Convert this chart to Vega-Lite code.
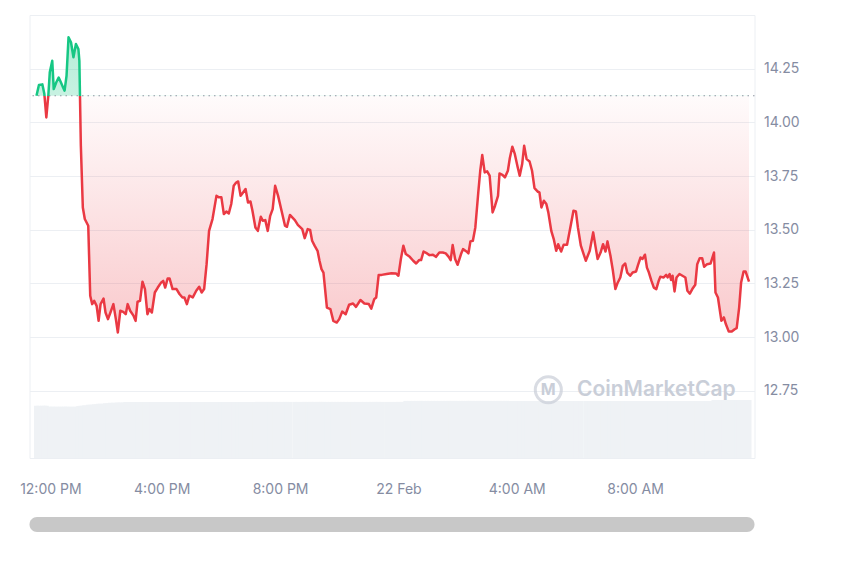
{
  "$schema": "https://vega.github.io/schema/vega-lite/v6.json",
  "padding": {"left": 18.5, "top": 14, "right": 5, "bottom": 5},
  "background": "white",
  "spacing": 20,
  "config": {"view": {"stroke": "#eceff3"}},
  "datasets": {
    "px": [
      {"t":"2024-02-21T11:46:00Z","p":14.124,"v":53},{"t":"2024-02-21T11:51:00Z","p":14.174,"v":53},{"t":"2024-02-21T11:58:00Z","p":14.177,"v":53},{"t":"2024-02-21T12:02:00Z","p":14.132,"v":53},{"t":"2024-02-21T12:06:00Z","p":14.023,"v":53},
      {"t":"2024-02-21T12:10:00Z","p":14.124,"v":52},{"t":"2024-02-21T12:13:00Z","p":14.233,"v":52},{"t":"2024-02-21T12:18:00Z","p":14.287,"v":52},{"t":"2024-02-21T12:21:00Z","p":14.155,"v":52},{"t":"2024-02-21T12:26:00Z","p":14.186,"v":52},
      {"t":"2024-02-21T12:31:00Z","p":14.209,"v":52},{"t":"2024-02-21T12:35:00Z","p":14.189,"v":52},{"t":"2024-02-21T12:40:00Z","p":14.163,"v":52},{"t":"2024-02-21T12:43:00Z","p":14.148,"v":52},{"t":"2024-02-21T12:47:00Z","p":14.217,"v":52},
      {"t":"2024-02-21T12:51:00Z","p":14.396,"v":52},{"t":"2024-02-21T12:56:00Z","p":14.373,"v":52},{"t":"2024-02-21T13:01:00Z","p":14.303,"v":52},{"t":"2024-02-21T13:06:00Z","p":14.365,"v":52},{"t":"2024-02-21T13:11:00Z","p":14.342,"v":52.5},
      {"t":"2024-02-21T13:13:00Z","p":14.287,"v":52.5},{"t":"2024-02-21T13:16:00Z","p":13.891,"v":53},{"t":"2024-02-21T13:20:00Z","p":13.604,"v":53},{"t":"2024-02-21T13:24:00Z","p":13.55,"v":53.5},{"t":"2024-02-21T13:31:00Z","p":13.519,"v":54},
      {"t":"2024-02-21T13:35:00Z","p":13.193,"v":54},{"t":"2024-02-21T13:39:00Z","p":13.154,"v":54},{"t":"2024-02-21T13:43:00Z","p":13.169,"v":54.5},{"t":"2024-02-21T13:48:00Z","p":13.146,"v":54.5},{"t":"2024-02-21T13:52:00Z","p":13.076,"v":55},
      {"t":"2024-02-21T13:56:00Z","p":13.154,"v":55},{"t":"2024-02-21T14:02:00Z","p":13.18,"v":55},{"t":"2024-02-21T14:06:00Z","p":13.115,"v":55.5},{"t":"2024-02-21T14:11:00Z","p":13.084,"v":55.5},{"t":"2024-02-21T14:16:00Z","p":13.115,"v":56},
      {"t":"2024-02-21T14:22:00Z","p":13.154,"v":56},{"t":"2024-02-21T14:27:00Z","p":13.084,"v":56},{"t":"2024-02-21T14:31:00Z","p":13.022,"v":56.5},{"t":"2024-02-21T14:36:00Z","p":13.123,"v":56.5},{"t":"2024-02-21T14:42:00Z","p":13.118,"v":56.5},
      {"t":"2024-02-21T14:47:00Z","p":13.107,"v":57},{"t":"2024-02-21T14:51:00Z","p":13.154,"v":57},{"t":"2024-02-21T14:56:00Z","p":13.123,"v":57},{"t":"2024-02-21T15:03:00Z","p":13.099,"v":57},{"t":"2024-02-21T15:07:00Z","p":13.076,"v":57},
      {"t":"2024-02-21T15:11:00Z","p":13.165,"v":57},{"t":"2024-02-21T15:16:00Z","p":13.169,"v":57},{"t":"2024-02-21T15:21:00Z","p":13.258,"v":57},{"t":"2024-02-21T15:26:00Z","p":13.224,"v":57},{"t":"2024-02-21T15:31:00Z","p":13.107,"v":57},
      {"t":"2024-02-21T15:35:00Z","p":13.131,"v":57},{"t":"2024-02-21T15:40:00Z","p":13.115,"v":57},{"t":"2024-02-21T15:46:00Z","p":13.208,"v":57},{"t":"2024-02-21T15:52:00Z","p":13.231,"v":57},{"t":"2024-02-21T15:59:00Z","p":13.255,"v":57},
      {"t":"2024-02-21T16:03:00Z","p":13.262,"v":57},{"t":"2024-02-21T16:07:00Z","p":13.231,"v":57},{"t":"2024-02-21T16:12:00Z","p":13.273,"v":57},{"t":"2024-02-21T16:16:00Z","p":13.273,"v":57},{"t":"2024-02-21T16:22:00Z","p":13.224,"v":57},
      {"t":"2024-02-21T16:30:00Z","p":13.224,"v":57},{"t":"2024-02-21T16:36:00Z","p":13.201,"v":57},{"t":"2024-02-21T16:42:00Z","p":13.185,"v":57},{"t":"2024-02-21T16:46:00Z","p":13.185,"v":57},{"t":"2024-02-21T16:51:00Z","p":13.154,"v":57},
      {"t":"2024-02-21T16:56:00Z","p":13.193,"v":57},{"t":"2024-02-21T17:03:00Z","p":13.185,"v":57},{"t":"2024-02-21T17:10:00Z","p":13.216,"v":57},{"t":"2024-02-21T17:16:00Z","p":13.235,"v":57},{"t":"2024-02-21T17:21:00Z","p":13.208,"v":57},
      {"t":"2024-02-21T17:26:00Z","p":13.224,"v":57},{"t":"2024-02-21T17:31:00Z","p":13.34,"v":57},{"t":"2024-02-21T17:36:00Z","p":13.495,"v":57},{"t":"2024-02-21T17:43:00Z","p":13.55,"v":57},{"t":"2024-02-21T17:51:00Z","p":13.658,"v":57},
      {"t":"2024-02-21T17:56:00Z","p":13.651,"v":57},{"t":"2024-02-21T18:01:00Z","p":13.651,"v":57},{"t":"2024-02-21T18:06:00Z","p":13.573,"v":57},{"t":"2024-02-21T18:11:00Z","p":13.585,"v":57},{"t":"2024-02-21T18:16:00Z","p":13.576,"v":57},
      {"t":"2024-02-21T18:21:00Z","p":13.62,"v":57},{"t":"2024-02-21T18:26:00Z","p":13.705,"v":57},{"t":"2024-02-21T18:31:00Z","p":13.72,"v":57},{"t":"2024-02-21T18:35:00Z","p":13.725,"v":57},{"t":"2024-02-21T18:40:00Z","p":13.658,"v":57},
      {"t":"2024-02-21T18:45:00Z","p":13.674,"v":57},{"t":"2024-02-21T18:50:00Z","p":13.69,"v":57},{"t":"2024-02-21T18:55:00Z","p":13.627,"v":57},{"t":"2024-02-21T19:00:00Z","p":13.632,"v":57},{"t":"2024-02-21T19:04:00Z","p":13.589,"v":57},
      {"t":"2024-02-21T19:10:00Z","p":13.511,"v":57},{"t":"2024-02-21T19:15:00Z","p":13.495,"v":57},{"t":"2024-02-21T19:21:00Z","p":13.561,"v":57},{"t":"2024-02-21T19:25:00Z","p":13.542,"v":57},{"t":"2024-02-21T19:30:00Z","p":13.545,"v":57},
      {"t":"2024-02-21T19:35:00Z","p":13.495,"v":57},{"t":"2024-02-21T19:40:00Z","p":13.565,"v":57},{"t":"2024-02-21T19:45:00Z","p":13.596,"v":57},{"t":"2024-02-21T19:50:00Z","p":13.705,"v":57},{"t":"2024-02-21T19:56:00Z","p":13.658,"v":57},
      {"t":"2024-02-21T20:03:00Z","p":13.589,"v":57},{"t":"2024-02-21T20:10:00Z","p":13.519,"v":57},{"t":"2024-02-21T20:14:00Z","p":13.514,"v":57},{"t":"2024-02-21T20:20:00Z","p":13.569,"v":57},{"t":"2024-02-21T20:30:00Z","p":13.545,"v":57},
      {"t":"2024-02-21T20:36:00Z","p":13.523,"v":57},{"t":"2024-02-21T20:45:00Z","p":13.503,"v":57},{"t":"2024-02-21T20:50:00Z","p":13.461,"v":57},{"t":"2024-02-21T20:56:00Z","p":13.503,"v":57},{"t":"2024-02-21T21:01:00Z","p":13.499,"v":57},
      {"t":"2024-02-21T21:05:00Z","p":13.449,"v":57},{"t":"2024-02-21T21:10:00Z","p":13.426,"v":57},{"t":"2024-02-21T21:16:00Z","p":13.402,"v":57},{"t":"2024-02-21T21:20:00Z","p":13.356,"v":57},{"t":"2024-02-21T21:24:00Z","p":13.317,"v":57},
      {"t":"2024-02-21T21:28:00Z","p":13.301,"v":57},{"t":"2024-02-21T21:35:00Z","p":13.138,"v":57},{"t":"2024-02-21T21:42:00Z","p":13.131,"v":57},{"t":"2024-02-21T21:48:00Z","p":13.076,"v":57},{"t":"2024-02-21T21:55:00Z","p":13.068,"v":57},
      {"t":"2024-02-21T22:00:00Z","p":13.084,"v":57},{"t":"2024-02-21T22:06:00Z","p":13.119,"v":57},{"t":"2024-02-21T22:13:00Z","p":13.107,"v":57},{"t":"2024-02-21T22:20:00Z","p":13.151,"v":57},{"t":"2024-02-21T22:28:00Z","p":13.157,"v":57},
      {"t":"2024-02-21T22:34:00Z","p":13.141,"v":57},{"t":"2024-02-21T22:43:00Z","p":13.173,"v":57},{"t":"2024-02-21T22:51:00Z","p":13.157,"v":57},{"t":"2024-02-21T23:00:00Z","p":13.154,"v":57},{"t":"2024-02-21T23:05:00Z","p":13.133,"v":57},
      {"t":"2024-02-21T23:11:00Z","p":13.177,"v":57},{"t":"2024-02-21T23:15:00Z","p":13.185,"v":57},{"t":"2024-02-21T23:20:00Z","p":13.29,"v":57},{"t":"2024-02-21T23:26:00Z","p":13.29,"v":57},{"t":"2024-02-21T23:36:00Z","p":13.294,"v":57},
      {"t":"2024-02-21T23:46:00Z","p":13.298,"v":57},{"t":"2024-02-21T23:55:00Z","p":13.297,"v":57},{"t":"2024-02-22T00:00:00Z","p":13.286,"v":57},{"t":"2024-02-22T00:05:00Z","p":13.364,"v":57},{"t":"2024-02-22T00:10:00Z","p":13.426,"v":57},
      {"t":"2024-02-22T00:15:00Z","p":13.387,"v":58},{"t":"2024-02-22T00:23:00Z","p":13.374,"v":58},{"t":"2024-02-22T00:30:00Z","p":13.356,"v":58},{"t":"2024-02-22T00:36:00Z","p":13.343,"v":58},{"t":"2024-02-22T00:42:00Z","p":13.359,"v":58},
      {"t":"2024-02-22T00:46:00Z","p":13.359,"v":58},{"t":"2024-02-22T00:51:00Z","p":13.399,"v":58},{"t":"2024-02-22T00:58:00Z","p":13.39,"v":58},{"t":"2024-02-22T01:03:00Z","p":13.382,"v":58},{"t":"2024-02-22T01:10:00Z","p":13.384,"v":58},
      {"t":"2024-02-22T01:16:00Z","p":13.374,"v":58},{"t":"2024-02-22T01:23:00Z","p":13.394,"v":58},{"t":"2024-02-22T01:30:00Z","p":13.394,"v":58},{"t":"2024-02-22T01:36:00Z","p":13.39,"v":58},{"t":"2024-02-22T01:42:00Z","p":13.374,"v":58},
      {"t":"2024-02-22T01:46:00Z","p":13.359,"v":58},{"t":"2024-02-22T01:50:00Z","p":13.429,"v":58},{"t":"2024-02-22T01:55:00Z","p":13.364,"v":58},{"t":"2024-02-22T02:00:00Z","p":13.337,"v":58},{"t":"2024-02-22T02:07:00Z","p":13.387,"v":58},
      {"t":"2024-02-22T02:11:00Z","p":13.41,"v":58},{"t":"2024-02-22T02:18:00Z","p":13.399,"v":58},{"t":"2024-02-22T02:22:00Z","p":13.39,"v":58},{"t":"2024-02-22T02:26:00Z","p":13.446,"v":58},{"t":"2024-02-22T02:31:00Z","p":13.449,"v":58},
      {"t":"2024-02-22T02:36:00Z","p":13.511,"v":58},{"t":"2024-02-22T02:42:00Z","p":13.674,"v":58},{"t":"2024-02-22T02:46:00Z","p":13.775,"v":58},{"t":"2024-02-22T02:50:00Z","p":13.848,"v":58},{"t":"2024-02-22T02:55:00Z","p":13.767,"v":58},
      {"t":"2024-02-22T03:00:00Z","p":13.772,"v":58},{"t":"2024-02-22T03:05:00Z","p":13.752,"v":58},{"t":"2024-02-22T03:11:00Z","p":13.581,"v":58},{"t":"2024-02-22T03:16:00Z","p":13.612,"v":58},{"t":"2024-02-22T03:22:00Z","p":13.658,"v":58},
      {"t":"2024-02-22T03:25:00Z","p":13.762,"v":58},{"t":"2024-02-22T03:31:00Z","p":13.756,"v":58},{"t":"2024-02-22T03:36:00Z","p":13.744,"v":58},{"t":"2024-02-22T03:42:00Z","p":13.775,"v":58},{"t":"2024-02-22T03:46:00Z","p":13.834,"v":58},
      {"t":"2024-02-22T03:51:00Z","p":13.887,"v":58},{"t":"2024-02-22T03:56:00Z","p":13.853,"v":58},{"t":"2024-02-22T04:02:00Z","p":13.79,"v":58},{"t":"2024-02-22T04:06:00Z","p":13.752,"v":58},{"t":"2024-02-22T04:11:00Z","p":13.806,"v":58},
      {"t":"2024-02-22T04:15:00Z","p":13.891,"v":58},{"t":"2024-02-22T04:20:00Z","p":13.829,"v":58},{"t":"2024-02-22T04:26:00Z","p":13.818,"v":58},{"t":"2024-02-22T04:31:00Z","p":13.775,"v":58},{"t":"2024-02-22T04:36:00Z","p":13.694,"v":58},
      {"t":"2024-02-22T04:43:00Z","p":13.677,"v":58},{"t":"2024-02-22T04:46:00Z","p":13.674,"v":58},{"t":"2024-02-22T04:50:00Z","p":13.604,"v":58},{"t":"2024-02-22T04:55:00Z","p":13.635,"v":58},{"t":"2024-02-22T05:00:00Z","p":13.62,"v":58},
      {"t":"2024-02-22T05:04:00Z","p":13.581,"v":58},{"t":"2024-02-22T05:10:00Z","p":13.495,"v":58},{"t":"2024-02-22T05:15:00Z","p":13.457,"v":58},{"t":"2024-02-22T05:20:00Z","p":13.402,"v":58},{"t":"2024-02-22T05:24:00Z","p":13.433,"v":58},
      {"t":"2024-02-22T05:30:00Z","p":13.399,"v":58},{"t":"2024-02-22T05:35:00Z","p":13.43,"v":58},{"t":"2024-02-22T05:42:00Z","p":13.43,"v":58},{"t":"2024-02-22T05:48:00Z","p":13.503,"v":58},{"t":"2024-02-22T05:55:00Z","p":13.589,"v":58},
      {"t":"2024-02-22T06:00:00Z","p":13.585,"v":58},{"t":"2024-02-22T06:04:00Z","p":13.511,"v":58},{"t":"2024-02-22T06:10:00Z","p":13.426,"v":58},{"t":"2024-02-22T06:20:00Z","p":13.356,"v":58},{"t":"2024-02-22T06:28:00Z","p":13.402,"v":58},
      {"t":"2024-02-22T06:35:00Z","p":13.488,"v":58},{"t":"2024-02-22T06:40:00Z","p":13.418,"v":58},{"t":"2024-02-22T06:44:00Z","p":13.364,"v":58},{"t":"2024-02-22T06:50:00Z","p":13.394,"v":58},{"t":"2024-02-22T06:55:00Z","p":13.433,"v":58},
      {"t":"2024-02-22T07:00:00Z","p":13.399,"v":58},{"t":"2024-02-22T07:04:00Z","p":13.446,"v":58},{"t":"2024-02-22T07:10:00Z","p":13.379,"v":58},{"t":"2024-02-22T07:15:00Z","p":13.309,"v":58},{"t":"2024-02-22T07:20:00Z","p":13.224,"v":58},
      {"t":"2024-02-22T07:24:00Z","p":13.25,"v":58},{"t":"2024-02-22T07:30:00Z","p":13.278,"v":58},{"t":"2024-02-22T07:35:00Z","p":13.332,"v":58},{"t":"2024-02-22T07:40:00Z","p":13.343,"v":58},{"t":"2024-02-22T07:44:00Z","p":13.301,"v":58},
      {"t":"2024-02-22T07:50:00Z","p":13.286,"v":58},{"t":"2024-02-22T07:55:00Z","p":13.301,"v":58},{"t":"2024-02-22T08:02:00Z","p":13.306,"v":58},{"t":"2024-02-22T08:06:00Z","p":13.337,"v":58},{"t":"2024-02-22T08:11:00Z","p":13.371,"v":58},
      {"t":"2024-02-22T08:15:00Z","p":13.364,"v":58},{"t":"2024-02-22T08:20:00Z","p":13.384,"v":58},{"t":"2024-02-22T08:24:00Z","p":13.324,"v":58},{"t":"2024-02-22T08:28:00Z","p":13.301,"v":58},{"t":"2024-02-22T08:33:00Z","p":13.263,"v":58},
      {"t":"2024-02-22T08:38:00Z","p":13.231,"v":58},{"t":"2024-02-22T08:43:00Z","p":13.224,"v":58},{"t":"2024-02-22T08:48:00Z","p":13.263,"v":58},{"t":"2024-02-22T08:51:00Z","p":13.281,"v":58},{"t":"2024-02-22T08:58:00Z","p":13.278,"v":58},
      {"t":"2024-02-22T09:03:00Z","p":13.29,"v":58},{"t":"2024-02-22T09:06:00Z","p":13.278,"v":58},{"t":"2024-02-22T09:10:00Z","p":13.294,"v":58},{"t":"2024-02-22T09:13:00Z","p":13.266,"v":58},{"t":"2024-02-22T09:16:00Z","p":13.286,"v":58},
      {"t":"2024-02-22T09:20:00Z","p":13.213,"v":58},{"t":"2024-02-22T09:24:00Z","p":13.278,"v":58},{"t":"2024-02-22T09:30:00Z","p":13.294,"v":58},{"t":"2024-02-22T09:36:00Z","p":13.286,"v":58},{"t":"2024-02-22T09:42:00Z","p":13.278,"v":58},
      {"t":"2024-02-22T09:46:00Z","p":13.216,"v":58},{"t":"2024-02-22T09:51:00Z","p":13.203,"v":58},{"t":"2024-02-22T09:56:00Z","p":13.224,"v":58},{"t":"2024-02-22T10:02:00Z","p":13.244,"v":58},{"t":"2024-02-22T10:06:00Z","p":13.34,"v":58},
      {"t":"2024-02-22T10:11:00Z","p":13.368,"v":58},{"t":"2024-02-22T10:16:00Z","p":13.368,"v":58},{"t":"2024-02-22T10:20:00Z","p":13.328,"v":58},{"t":"2024-02-22T10:26:00Z","p":13.34,"v":58},{"t":"2024-02-22T10:33:00Z","p":13.343,"v":58},
      {"t":"2024-02-22T10:40:00Z","p":13.394,"v":59},{"t":"2024-02-22T10:43:00Z","p":13.208,"v":59},{"t":"2024-02-22T10:48:00Z","p":13.185,"v":59},{"t":"2024-02-22T10:55:00Z","p":13.076,"v":59},{"t":"2024-02-22T11:00:00Z","p":13.092,"v":59},
      {"t":"2024-02-22T11:04:00Z","p":13.061,"v":59},{"t":"2024-02-22T11:10:00Z","p":13.026,"v":59},{"t":"2024-02-22T11:16:00Z","p":13.026,"v":59},{"t":"2024-02-22T11:22:00Z","p":13.037,"v":59},{"t":"2024-02-22T11:26:00Z","p":13.042,"v":59},
      {"t":"2024-02-22T11:31:00Z","p":13.138,"v":59},{"t":"2024-02-22T11:35:00Z","p":13.255,"v":59},{"t":"2024-02-22T11:40:00Z","p":13.306,"v":59},{"t":"2024-02-22T11:44:00Z","p":13.306,"v":59},{"t":"2024-02-22T11:51:00Z","p":13.259,"v":59}
    ],
    "base": [{"b": 14.124}],
    "wm": [{"t": "2024-02-22T06:02:00Z", "p": 12.755, "label": "CoinMarketCap"}],
    "logo": [{"t": "2024-02-22T05:04:00Z", "p": 12.755, "icon": "M"}],
    "scroll": [{"start": "2024-02-21T11:42:00Z", "end": "2024-02-22T11:52:00Z"}]
  },
  "vconcat": [
    {
      "width": 725,
      "height": 443,
      "layer": [
        {
          "data": {"name": "px"},
          "mark": {"type": "bar", "color": "#eff2f5", "clip": true, "width": 5},
          "encoding": {
            "x": {
              "field": "t", "type": "temporal",
              "scale": {"type": "utc", "domain": [{"year": 2024, "month": 2, "date": 21, "hours": 11, "minutes": 42, "utc": true}, {"year": 2024, "month": 2, "date": 22, "hours": 11, "minutes": 52, "utc": true}]},
              "axis": {
                "title": null, "grid": false, "domain": false, "ticks": false,
                "labelPadding": 24, "labelFont": "Inter", "labelFontSize": 14, "labelColor": "#858ca2",
                "labelOffset": {"condition": {"test": "utcFormat(datum.value, '%d %H') == '21 12'", "value": 7}, "value": 0},
                "values": [
                  {"year": 2024, "month": 2, "date": 21, "hours": 12, "utc": true},
                  {"year": 2024, "month": 2, "date": 21, "hours": 16, "utc": true},
                  {"year": 2024, "month": 2, "date": 21, "hours": 20, "utc": true},
                  {"year": 2024, "month": 2, "date": 22, "hours": 0, "utc": true},
                  {"year": 2024, "month": 2, "date": 22, "hours": 4, "utc": true},
                  {"year": 2024, "month": 2, "date": 22, "hours": 8, "utc": true}
                ],
                "labelExpr": "utcFormat(datum.value, '%H:%M') == '00:00' ? utcFormat(datum.value, '%-d %b') : utcFormat(datum.value, '%-I:%M %p')"
              }
            },
            "y": {"field": "v", "type": "quantitative", "scale": {"domain": [0, 450]}, "axis": null}
          }
        },
        {
          "data": {"name": "px"},
          "mark": {
            "type": "area",
            "fill": {"gradient": "linear", "x1": 0, "y1": 0, "x2": 0, "y2": 1,
              "stops": [
                {"offset": 0, "color": "rgba(22,199,132,0.32)"},
                {"offset": 0.198, "color": "rgba(22,199,132,0.24)"},
                {"offset": 0.198, "color": "rgba(234,57,67,0.02)"},
                {"offset": 1, "color": "rgba(234,57,67,0.27)"}
              ]}
          },
          "encoding": {
            "x": {"field": "t", "type": "temporal"},
            "y": {
              "field": "p", "type": "quantitative",
              "scale": {"domain": [12.4375, 14.5], "zero": false, "nice": false},
              "axis": {
                "orient": "right", "title": null, "values": [12.75, 13, 13.25, 13.5, 13.75, 14, 14.25, 14.5],
                "labelExpr": "datum.value >= 14.5 ? '' : format(datum.value, '.2f')",
                "labelFont": "Inter", "labelFontSize": 14, "labelColor": "#858ca2",
                "grid": true, "gridColor": "#eceff3", "domain": false, "ticks": false, "labelPadding": 9
              }
            },
            "y2": {"datum": 14.124}
          }
        },
        {
          "data": {"name": "base"},
          "mark": {"type": "rule", "stroke": "#9097a3", "strokeDash": [1.5, 4], "strokeWidth": 1.2},
          "encoding": {"y": {"field": "b", "type": "quantitative", "scale": {"domain": [12.4375, 14.5], "zero": false, "nice": false}, "axis": null}}
        },
        {
          "data": {"name": "px"},
          "mark": {
            "type": "line", "strokeWidth": 2.5, "strokeJoin": "round",
            "stroke": {"gradient": "linear", "x1": 0, "y1": 0, "x2": 0, "y2": 1,
              "stops": [
                {"offset": 0, "color": "#16c784"},
                {"offset": 0.198, "color": "#16c784"},
                {"offset": 0.198, "color": "#ea3943"},
                {"offset": 1, "color": "#ea3943"}
              ]}
          },
          "encoding": {
            "x": {"field": "t", "type": "temporal"},
            "y": {"field": "p", "type": "quantitative", "scale": {"domain": [12.4375, 14.5], "zero": false, "nice": false}, "axis": null}
          }
        },
        {
          "data": {"name": "logo"},
          "mark": {"type": "point", "shape": "circle", "filled": false, "stroke": "#c9ced8", "strokeWidth": 3, "size": 680},
          "encoding": {
            "x": {"field": "t", "type": "temporal"},
            "y": {"field": "p", "type": "quantitative", "scale": {"domain": [12.4375, 14.5], "zero": false, "nice": false}, "axis": null}
          }
        },
        {
          "data": {"name": "logo"},
          "mark": {"type": "text", "align": "center", "baseline": "middle", "fontSize": 16, "fontWeight": 700, "color": "#c9ced8", "font": "Inter"},
          "encoding": {
            "x": {"field": "t", "type": "temporal"},
            "y": {"field": "p", "type": "quantitative", "scale": {"domain": [12.4375, 14.5], "zero": false, "nice": false}, "axis": null},
            "text": {"field": "icon"}
          }
        },
        {
          "data": {"name": "wm"},
          "mark": {"type": "text", "align": "left", "baseline": "middle", "fontSize": 21, "fontWeight": 600, "color": "#c9ced8", "font": "Inter"},
          "encoding": {
            "x": {"field": "t", "type": "temporal"},
            "y": {"field": "p", "type": "quantitative", "scale": {"domain": [12.4375, 14.5], "zero": false, "nice": false}, "axis": null},
            "text": {"field": "label"}
          }
        }
      ],
      "resolve": {"scale": {"y": "independent"}}
    },
    {
      "width": 725,
      "height": 15,
      "view": {"stroke": null},
      "data": {"name": "scroll"},
      "mark": {"type": "rect", "color": "#c8c8c8", "cornerRadius": 7.5},
      "encoding": {
        "x": {
          "field": "start", "type": "temporal",
          "scale": {"type": "utc", "domain": [{"year": 2024, "month": 2, "date": 21, "hours": 11, "minutes": 42, "utc": true}, {"year": 2024, "month": 2, "date": 22, "hours": 11, "minutes": 52, "utc": true}]},
          "axis": null
        },
        "x2": {"field": "end"}
      }
    }
  ]
}
